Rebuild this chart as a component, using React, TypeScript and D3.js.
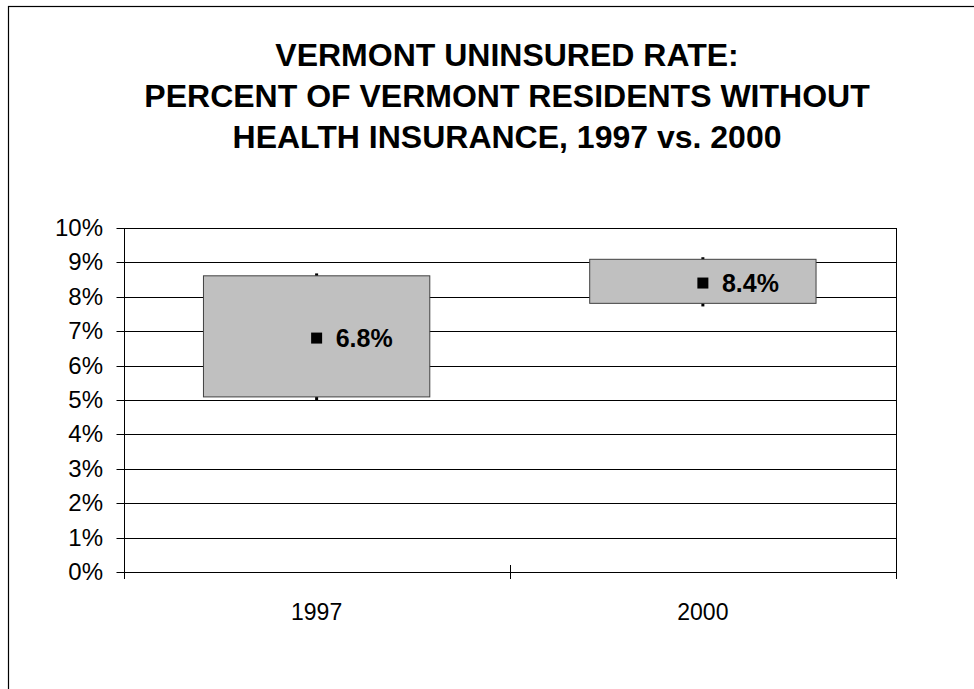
import React from "react";
import * as d3 from "d3";

const categories = ["1997", "2000"];
const boxLow = [5.09, 7.81];
const boxHigh = [8.61, 9.09];
const whiskerLow = [5.0, 7.72];
const whiskerHigh = [8.68, 9.15];
const estimate = [6.8, 8.4];
const labels = ["6.8%", "8.4%"];
const yTicks = [0, 1, 2, 3, 4, 5, 6, 7, 8, 9, 10];
const titleLines = [
  "VERMONT UNINSURED RATE:",
  "PERCENT OF VERMONT RESIDENTS WITHOUT",
  "HEALTH INSURANCE, 1997 vs. 2000",
];

export default function App() {
  const W = 974, H = 689;
  const left = 123.5, right = 896, top = 228, bottom = 572;
  const x = d3.scaleBand<string>().domain(categories).range([left, right]).paddingInner(0).paddingOuter(0);
  const y = d3.scaleLinear().domain([0, 10]).range([bottom, top]);
  const bw = x.bandwidth();
  const boxW = bw * 0.586;
  const font = "'Liberation Sans', Arial, sans-serif";
  const boundaries = [left, ...categories.map((c) => (x(c) as number) + bw)];
  const px = (v: number) => Math.round(v) + 0.5;

  return (
    <svg width={W} height={H} style={{ position: "absolute", left: 0, top: 0, background: "#fff" }} fontFamily={font}>
      <rect x={8.5} y={6.5} width={1000} height={1000} fill="#fff" stroke="#000" strokeWidth={1.2} />
      {titleLines.map((t, i) => (
        <text key={i} x={507} y={66 + i * 41} textAnchor="middle" fontWeight="bold" fontSize={32} fill="#000">
          {t}
        </text>
      ))}
      {yTicks.map((v) => (
        <g key={v}>
          <line x1={left - 7} x2={right} y1={px(y(v))} y2={px(y(v))} stroke="#000" strokeWidth={1} />
          <text x={103} y={y(v) + 8} textAnchor="end" fontSize={24} fill="#000">{`${v}%`}</text>
        </g>
      ))}
      <line x1={px(left)} x2={px(left)} y1={top} y2={bottom + 7} stroke="#000" />
      <line x1={px(right)} x2={px(right)} y1={top} y2={bottom + 7} stroke="#000" />
      {boundaries.map((b, i) => (
        <line key={i} x1={px(b)} x2={px(b)} y1={bottom - 7} y2={bottom + 7} stroke="#000" />
      ))}
      {categories.map((c, i) => {
        const cx = (x(c) as number) + bw / 2;
        return (
          <g key={c}>
            <line x1={cx} x2={cx} y1={y(whiskerHigh[i])} y2={y(whiskerLow[i])} stroke="#000" strokeWidth={3} />
            <rect
              x={cx - boxW / 2}
              y={y(boxHigh[i])}
              width={boxW}
              height={y(boxLow[i]) - y(boxHigh[i])}
              fill="#c0c0c0"
              stroke="#404040"
              strokeWidth={1}
            />
            <rect x={cx - 5.5} y={y(estimate[i]) - 5.5} width={11} height={11} fill="#000" />
            <text x={cx + 19} y={y(estimate[i]) + 9} fontSize={25} fontWeight="bold" fill="#000">{labels[i]}</text>
            <text x={cx} y={619.5} textAnchor="middle" fontSize={23} fill="#000">{c}</text>
          </g>
        );
      })}
    </svg>
  );
}
